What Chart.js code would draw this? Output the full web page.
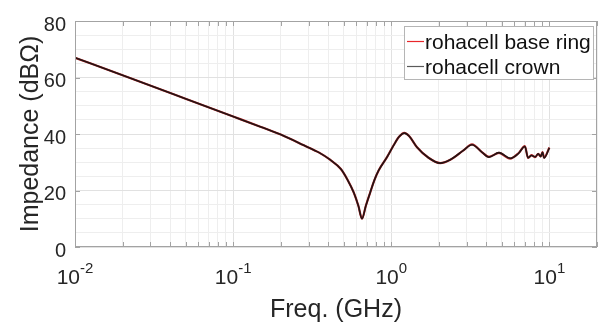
<!DOCTYPE html>
<html>
<head>
<meta charset="utf-8">
<script src="https://cdn.jsdelivr.net/npm/chart.js@4.4.1/dist/chart.umd.min.js"></script>
<style>
  html, body { margin: 0; padding: 0; background: #fff; }
  #wrap { width: 606px; height: 323px; position: relative; }
</style>
</head>
<body>
<div id="wrap"><canvas id="chart"></canvas></div>
<script>
// Values
const freqGHz = [0.01, 0.02, 0.05, 0.1, 0.15, 0.2, 0.28, 0.35, 0.41, 0.48, 0.53, 0.58, 0.62, 0.653,
  0.69, 0.737, 0.78, 0.832, 0.94, 1.035, 1.12, 1.21, 1.3, 1.45, 1.72, 2.04, 2.36, 2.86, 3.24,
  3.74, 4.15, 4.8, 5.65, 6.37, 7.0, 7.33, 7.7, 8.12, 8.5, 8.8, 9.05, 9.25, 10]
const baseRing = [67.0, 60.8, 52.5, 46.2, 42.5, 39.8, 36.0, 33.4, 30.9, 27.6, 23.7, 19.2, 14.5, 10.0,
  14.5, 19.4, 23.5, 27.1, 31.8, 36.0, 39.0, 40.4, 39.2, 35.4, 31.6, 29.7, 30.9, 34.2, 36.3,
  33.6, 31.9, 33.3, 31.3, 33.2, 35.7, 31.5, 32.5, 31.8, 33.0, 32.1, 33.6, 31.6, 35.2]
const crown = [67.0, 60.8, 52.5, 46.2, 42.5, 39.8, 36.0, 33.4, 30.9, 27.6, 23.7, 19.2, 14.5, 10.0,
  14.5, 19.4, 23.5, 27.1, 31.8, 36.0, 39.0, 40.3, 39.2, 35.4, 31.6, 29.7, 30.9, 34.2, 36.2,
  33.6, 31.8, 33.4, 31.4, 33.1, 35.6, 31.6, 32.4, 31.9, 33.0, 32.0, 33.5, 31.5, 35.1]

const xGridValues = [0.01, 0.02, 0.03, 0.04, 0.05, 0.06, 0.07, 0.08, 0.09,
  0.1, 0.2, 0.3, 0.4, 0.5, 0.6, 0.7, 0.8, 0.9,
  1, 2, 3, 4, 5, 6, 7, 8, 9, 10, 20]
const xDecades = [0.01, 0.1, 1, 10]
const xExponents = ['-2', '-1', '0', '1']
const yLabels = [0, 20, 40, 60, 80]

const FONT = '"Liberation Sans", Arial, sans-serif'
const TEXT = '#262626'
const AXIS = '#a3a3a3'

const toPoints = (ys) => freqGHz.map((f, i) => ({ x: f, y: ys[i] }))

// box, inward ticks, tick labels, titles and legend, MATLAB style
const decorPlugin = {
  id: 'decor',
  afterDraw(chart) {
    const { ctx, chartArea: a, scales } = chart
    const xs = scales.x, ys = scales.y
    ctx.save()

    ctx.strokeStyle = AXIS
    ctx.lineWidth = 1
    ctx.strokeRect(a.left + 0.5, a.top + 0.5, a.right - a.left - 1, a.bottom - a.top - 1)

    ctx.beginPath()
    xGridValues.forEach(v => {
      const px = Math.round(xs.getPixelForValue(v)) + 0.5
      ctx.moveTo(px, a.bottom); ctx.lineTo(px, a.bottom - 5)
      ctx.moveTo(px, a.top); ctx.lineTo(px, a.top + 5)
    })
    yLabels.forEach(v => {
      const py = Math.round(ys.getPixelForValue(v)) + 0.5
      ctx.moveTo(a.left, py); ctx.lineTo(a.left + 5, py)
      ctx.moveTo(a.right, py); ctx.lineTo(a.right - 5, py)
    })
    ctx.stroke()

    ctx.fillStyle = TEXT
    // y tick labels
    ctx.textAlign = 'right'
    ctx.textBaseline = 'alphabetic'
    ctx.font = '20px ' + FONT
    yLabels.forEach(v => {
      ctx.fillText(String(v), a.left - 9, ys.getPixelForValue(v) + 9.5)
    })

    // x tick labels 10^n
    ctx.textAlign = 'left'
    xDecades.forEach((v, i) => {
      const px = xs.getPixelForValue(v)
      ctx.font = '21px ' + FONT
      const wBase = ctx.measureText('10').width
      ctx.font = '15px ' + FONT
      const wExp = ctx.measureText(xExponents[i]).width
      const start = px - (wBase + wExp) / 2
      ctx.font = '21px ' + FONT
      ctx.fillText('10', start, a.bottom + 37)
      ctx.font = '15px ' + FONT
      ctx.fillText(xExponents[i], start + wBase, a.bottom + 25.5)
    })

    // axis titles
    ctx.font = '25px ' + FONT
    ctx.textAlign = 'center'
    ctx.fillText('Freq. (GHz)', (a.left + a.right) / 2, 317)
    ctx.save()
    ctx.translate(38, (a.top + a.bottom) / 2)
    ctx.rotate(-Math.PI / 2)
    ctx.fillText('Impedance (dBΩ)', 0, 0)
    ctx.restore()

    // legend
    const bx = a.right - 193, by = a.top + 5, bw = 189, bh = 53
    ctx.fillStyle = '#fff'
    ctx.fillRect(bx, by, bw, bh)
    ctx.strokeStyle = '#b5b5b5'
    ctx.strokeRect(bx + 0.5, by + 0.5, bw, bh)
    ctx.font = '21px ' + FONT
    ctx.textAlign = 'left'
    const legendColors = ['#e8262a', '#5a5a5a']
    chart.data.datasets.forEach((ds, i) => {
      const ly = by + 15.5 + i * 25
      ctx.strokeStyle = legendColors[i]
      ctx.lineWidth = 1.2
      ctx.beginPath()
      ctx.moveTo(bx + 3, ly); ctx.lineTo(bx + 20, ly)
      ctx.stroke()
      ctx.fillStyle = '#111'
      ctx.fillText(ds.label, bx + 21, ly + 7)
    })

    ctx.restore()
  }
}

new Chart(document.getElementById('chart'), {
  type: 'line',
  data: {
    datasets: [
      {
        label: 'rohacell base ring',
        data: toPoints(baseRing),
        borderColor: '#b8282a',
        borderWidth: 2.2,
        order: 1
      },
      {
        label: 'rohacell crown',
        data: toPoints(crown),
        borderColor: '#221414',
        borderWidth: 1.6,
        order: 0
      }
    ]
  },
  options: {
    responsive: true,
    maintainAspectRatio: false,
    animation: false,
    events: [],
    layout: { padding: { top: 21, right: 9, left: 0, bottom: 0 } },
    elements: {
      point: { radius: 0 },
      line: { cubicInterpolationMode: 'monotone' }
    },
    plugins: {
      legend: { display: false },
      tooltip: { enabled: false }
    },
    scales: {
      x: {
        type: 'logarithmic',
        min: 0.01,
        max: 20,
        afterBuildTicks: (scale) => {
          scale.ticks = xGridValues.map(v => ({ value: v, major: xDecades.includes(v) }))
        },
        afterFit: (scale) => { scale.height = 76 },
        ticks: { display: false, autoSkip: false },
        border: { display: false },
        grid: {
          drawTicks: false,
          color: (c) => (c.tick && c.tick.major) ? '#e1e1e1' : '#eeeeee'
        }
      },
      y: {
        min: 0,
        max: 80,
        afterFit: (scale) => { scale.width = 75 },
        ticks: { display: false, stepSize: 5, autoSkip: false },
        border: { display: false },
        grid: {
          drawTicks: false,
          color: (c) => (c.tick && c.tick.value % 20 === 0) ? '#e1e1e1' : '#eeeeee'
        }
      }
    }
  },
  plugins: [decorPlugin]
})
</script>
</body>
</html>
